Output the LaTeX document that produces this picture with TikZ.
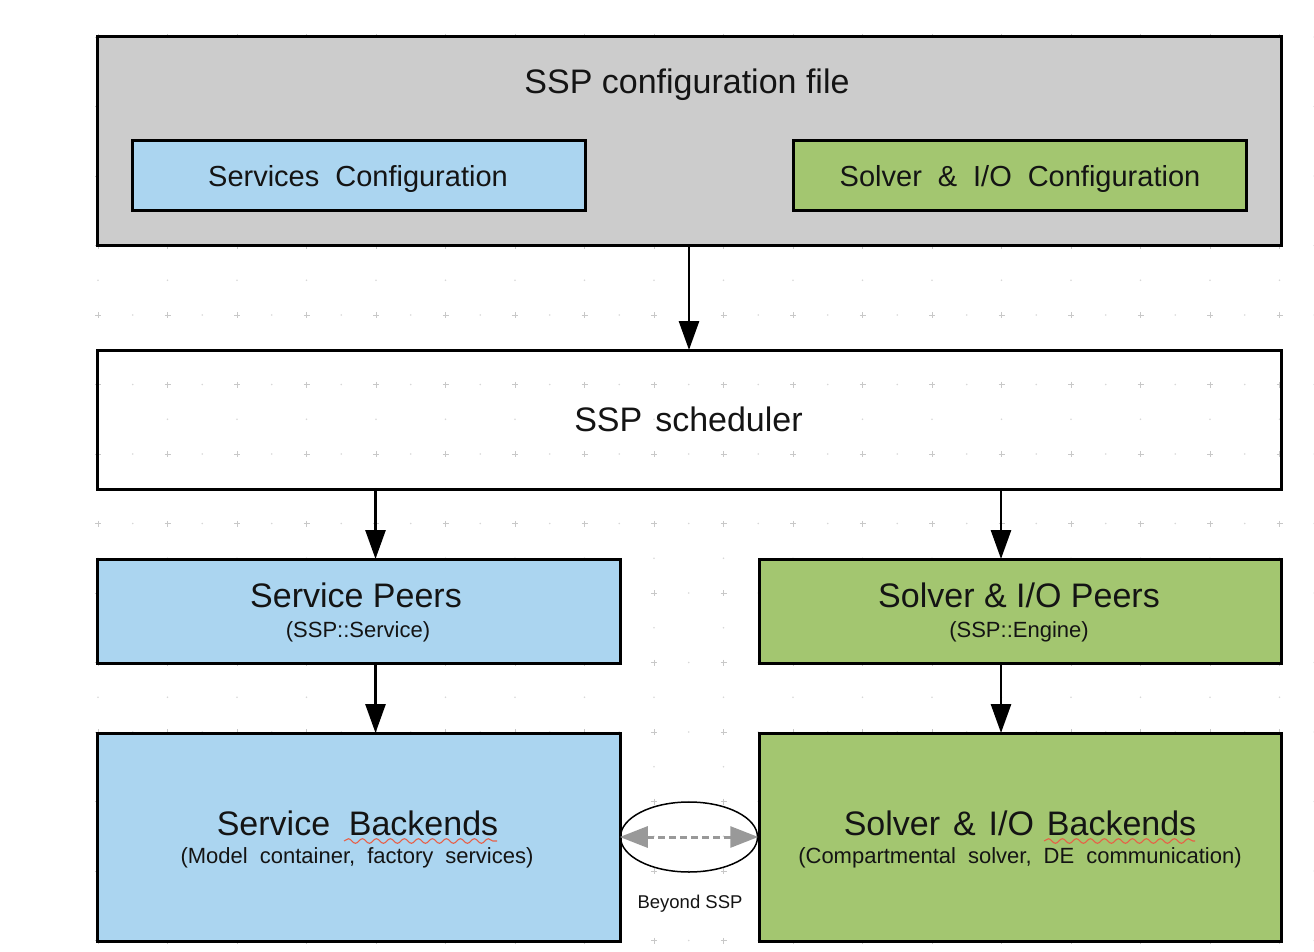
\documentclass[tikz,border=0pt]{standalone}
\usepackage{fontspec}
\setmainfont{Liberation Sans}
\usetikzlibrary{arrows.meta,decorations.pathmorphing,shapes.geometric}
\definecolor{cfgblue}{RGB}{171,213,240}
\definecolor{cfggreen}{RGB}{163,198,112}
\definecolor{cfggray}{RGB}{204,204,204}
\definecolor{gridcross}{RGB}{200,200,200}
\definecolor{griddot}{RGB}{215,215,215}
\definecolor{txt}{RGB}{20,20,20}
\definecolor{spell}{RGB}{232,95,70}
\newcommand{\wsp}{\hspace{0.55em}}
\newcommand{\msp}{\hspace{0.38em}}
\begin{document}
\begin{tikzpicture}[x=1pt,y=-1pt,
  box/.style={draw=black, line width=3pt, inner sep=0pt, outer sep=0pt, text=txt},
  bigfont/.style={font=\fontsize{34}{38}\selectfont, text=txt, inner sep=0pt},
  cfgfont/.style={font=\fontsize{29}{34}\selectfont, text=txt, inner sep=0pt},
  subfont/.style={font=\fontsize{22}{25}\selectfont, text=txt, inner sep=0pt},
  smallfont/.style={font=\fontsize{18.5}{22}\selectfont, text=txt, inner sep=0pt},
  flow/.style={draw=black, line width=2.8pt, -{Triangle[length=29pt,width=20pt]}},
  beyondarrow/.style={draw=black!40, line width=3pt, dash pattern=on 7pt off 4pt,
    {Triangle[length=28pt,width=21pt]}-{Triangle[length=28pt,width=21pt]}},
  spellmark/.style={draw=spell, line width=1.1pt, decorate,
    decoration={snake, amplitude=2.3pt, segment length=14pt}}
]
\useasboundingbox (0,0) rectangle (1314,952);
% background grid
\foreach \i [evaluate=\i as \gx using 98+69.5*\i] in {0,...,17}{
  \foreach \j [evaluate=\j as \gy using 37+69.5*\j] in {0,...,13}{
    \draw[gridcross, line width=0.9pt] (\gx-3,\gy) -- (\gx+3,\gy) (\gx,\gy-3) -- (\gx,\gy+3);
    \fill[griddot] (\gx+34.75,\gy) circle (0.9pt);
    \fill[griddot] (\gx,\gy+34.75) circle (0.9pt);
  }
}
% top configuration block
\node[box, fill=cfggray, minimum width=1184pt, minimum height=208pt] (cfg) at (689,141) {};
\node[bigfont, anchor=base] (cfgtitle) at (687,94) {SSP configuration file};
\node[box, fill=cfgblue, minimum width=453pt, minimum height=70pt] (svccfg) at (358.5,176) {};
\node[cfgfont, anchor=base] (svccfgt) at (358,186) {Services\wsp Configuration};
\node[box, fill=cfggreen, minimum width=453pt, minimum height=70pt] (solcfg) at (1019.5,176) {};
\node[cfgfont, anchor=base] (solcfgt) at (1020,186) {Solver\wsp\&\wsp I/O\wsp Configuration};
% scheduler
\node[box, minimum width=1184pt, minimum height=139pt] (sched) at (689,419.5) {};
\node[bigfont, anchor=base] (schedt) at (688.5,431) {SSP\msp scheduler};
% peers
\node[box, fill=cfgblue, minimum width=523pt, minimum height=104pt] (svcpeer) at (358.5,611) {};
\node[bigfont, anchor=base] (svcpeert) at (356,607) {Service Peers};
\node[subfont, anchor=base] (svcpeers) at (358,637) {(SSP::Service)};
\node[box, fill=cfggreen, minimum width=522pt, minimum height=104pt] (solpeer) at (1020,611) {};
\node[bigfont, anchor=base] (solpeert) at (1019,607) {Solver \& I/O Peers};
\node[subfont, anchor=base] (solpeers) at (1019,637) {(SSP::Engine)};
% backends
\node[box, fill=cfgblue, minimum width=523pt, minimum height=208pt] (svcback) at (358.5,837) {};
\node[bigfont, anchor=base] (svcbackt) at (357.5,835) {Service\wsp Backends};
\node[subfont, anchor=base] (svcbacks) at (357,863) {(Model\wsp container,\wsp factory\wsp services)};
\node[box, fill=cfggreen, minimum width=522pt, minimum height=208pt] (solback) at (1020,837) {};
\node[bigfont, anchor=base] (solbackt) at (1020,835) {Solver\msp\&\msp I/O\msp Backends};
\node[subfont, anchor=base] (solbacks) at (1020,863) {(Compartmental\wsp solver,\wsp DE\wsp communication)};
% spell-check underlines
\draw[spellmark] (344,841) -- (497,841);
\draw[spellmark] (1044,841) -- (1195,841);
% connectors
\coordinate (lft) at ([xshift=17pt]svcpeer.north);
\coordinate (rgt) at ([xshift=-19pt]solpeer.north);
\draw[flow] (cfg.south) -- (sched.north -| cfg.south);
\draw[flow] (sched.south -| lft) -- (lft);
\draw[flow] (sched.south -| rgt) -- (rgt);
\draw[flow] (svcpeer.south -| lft) -- (svcback.north -| lft);
\draw[flow] (solpeer.south -| rgt) -- (solback.north -| rgt);
% beyond SSP
\node[draw=black, line width=1.5pt, ellipse, minimum width=137pt, minimum height=70pt, inner sep=0pt] (beyond) at (689,837) {};
\draw[beyondarrow] (beyond.west) -- (beyond.east);
\node[smallfont, anchor=base] (beyondt) at (690,908) {Beyond SSP};
\end{tikzpicture}
\end{document}
